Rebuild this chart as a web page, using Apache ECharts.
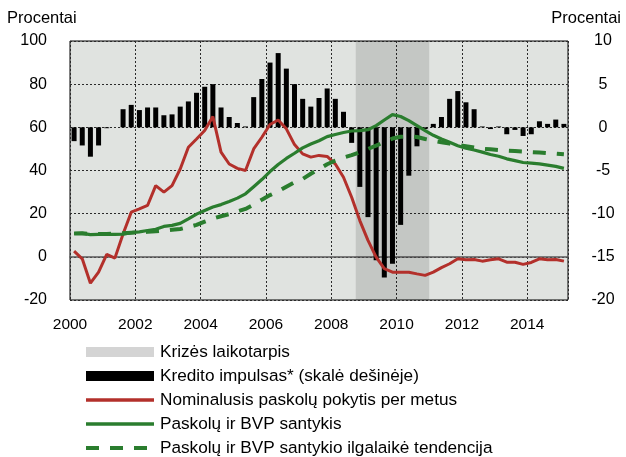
<!DOCTYPE html>
<html>
<head>
<meta charset="utf-8">
<script src="https://cdn.jsdelivr.net/npm/echarts@6/dist/echarts.min.js"></script>
<style>
html,body{margin:0;padding:0;background:#fff;}
#c{width:626px;height:457px;}
</style>
</head>
<body>
<div id="c"></div>
<script>
// Quarterly categories 2000Q1 .. 2015Q1
const quarters = [];
for (let y = 2000; y <= 2015; y++) {
  for (let q = 1; q <= 4; q++) {
    if (quarters.length < 61) quarters.push(y + 'Q' + q);
  }
}
const yearTicks = [2000, 2002, 2004, 2006, 2008, 2010, 2012, 2014];
const crisisStart = 2008.75;
const crisisEnd = 2011.0;

// Kredito impulsas (right scale)
const kreditoImpulsas = [-1.6, -2.1, -3.4, -2.1, -0.1, 0, 2.1, 2.6, 2.0, 2.3,
  2.3, 1.4, 1.5, 2.4, 3.0, 4.0, 4.7, 5.0, 2.3, 1.2,
  0.5, 0.1, 3.5, 5.6, 7.5, 8.6, 6.8, 5.0, 3.3, 2.4,
  3.4, 4.5, 3.3, 1.8, -1.8, -6.9, -10.4, -15.4, -17.4, -15.8,
  -11.3, -5.6, -2.2, -0.2, 0.4, 1.2, 3.3, 4.2, 2.9, 2.1,
  0.1, -0.2, 0.1, -0.8, -0.3, -1.0, -0.8, 0.7, 0.4, 0.9, 0.4];
// Nominalusis paskolų pokytis per metus
const nominalusPokytis = [2.6, -0.9, -12.2, -7.1, 1.1, -0.6, 10.6, 20.7, 22.2, 23.8,
  33, 30, 33, 40.7, 50.8, 54.6, 58.5, 65, 48.5, 43,
  41, 40, 50, 55.4, 61.3, 63.4, 59.3, 52, 47.7, 46.2,
  47, 46.5, 43, 36.9, 27.6, 16.8, 7.6, -0.1, -5.5, -7.1,
  -7.1, -7.1, -7.9, -8.6, -7.1, -5.0, -3.2, -0.9, -1.4, -1.2,
  -2.0, -1.4, -0.9, -2.5, -2.5, -3.5, -2.6, -0.9, -1.4, -1.2, -2.0];
// Paskolų ir BVP santykis
const paskoluBVP = [10.8, 10.9, 10.3, 10.4, 10.4, 10.4, 10.5, 11.2, 11.6, 12.2,
  12.8, 14.1, 14.6, 15.5, 17.6, 19.8, 21.5, 23.1, 24.2, 25.6,
  27.2, 29.2, 32.5, 35.8, 39.5, 42.8, 45.6, 48, 50.5, 52.3,
  53.8, 55.7, 56.7, 57.6, 58.3, 58.5, 58.9, 60.8, 63.4, 65.9,
  65, 63.1, 60.8, 58.5, 56.3, 54.6, 53.1, 51.5, 50.3, 49.5,
  48.5, 47.4, 46.6, 45.4, 44.6, 43.7, 43.4, 43.1, 42.5, 41.9, 41];
// Paskolų ir BVP santykio ilgalaikė tendencija
const paskoluBVPTendencija = [10.8, 10.9, 10.6, 10.6, 10.6, 10.7, 10.9, 11.2, 11.4, 11.6,
  11.8, 12.1, 12.5, 12.9, 13.8, 14.8, 16.3, 17.7, 18.8, 19.8,
  21, 22.2, 24.2, 26.5, 28.6, 30.3, 32.5, 34.5, 36.1, 38.5,
  40.6, 42.9, 44.6, 46, 47.1, 48.5, 50, 51.5, 53.3, 54.8,
  55.6, 55.9, 55.5, 54.6, 53.8, 53.1, 52.5, 51.8, 51.3, 50.7,
  50.1, 49.8, 49.5, 49.2, 49, 48.8, 48.5, 48.3, 48, 47.8, 47.5];

const names = {
  crisis: 'Krizės laikotarpis',
  impulse: 'Kredito impulsas* (skalė dešinėje)',
  nominal: 'Nominalusis paskolų pokytis per metus',
  ratio: 'Paskolų ir BVP santykis',
  trend: 'Paskolų ir BVP santykio ilgalaikė tendencija'
};

const FONT = '"Liberation Sans", Arial, sans-serif';
const RED = '#B3302B';
const GREEN = '#2A7D2E';
const grid = '#2a2a2a';

const chart = echarts.init(document.getElementById('c'), null, {renderer: 'canvas'});
chart.setOption({
  animation: false,
  backgroundColor: '#fff',
  textStyle: {fontFamily: FONT},
  grid: {left: 70, right: 58, top: 41, bottom: 157, show: true,
    backgroundColor: '#E0E3E0', borderColor: '#000', borderWidth: 1},
  graphic: [
    {type: 'text', left: 7, top: 10, style: {text: 'Procentai', font: '16.5px ' + FONT, fill: '#000'}},
    {type: 'text', right: 5, top: 10, style: {text: 'Procentai', font: '16.5px ' + FONT, fill: '#000'}}
  ],
  xAxis: [
    {type: 'category', data: quarters, boundaryGap: true,
      axisLine: {show: true, onZero: true, onZeroAxisIndex: 0, lineStyle: {color: '#5a5a5a', width: 1.5}},
      axisTick: {show: false}, axisLabel: {show: false}, splitLine: {show: false}},
    {type: 'value', min: 2000, max: 2015.25, interval: 2, position: 'bottom',
      axisLine: {show: false}, axisTick: {show: false},
      axisLabel: {color: '#000', fontSize: 15.5, fontFamily: FONT, margin: 17, showMaxLabel: false,
        formatter: v => (yearTicks.indexOf(v) >= 0 ? String(v) : '')},
      splitLine: {show: true, lineStyle: {color: grid, width: 1, type: [2, 2]}}}
  ],
  yAxis: [
    {type: 'value', min: -20, max: 100, interval: 20, position: 'left',
      axisLine: {show: false}, axisTick: {show: false},
      axisLabel: {color: '#000', fontSize: 16, fontFamily: FONT, margin: 23},
      splitLine: {show: true, lineStyle: {color: grid, width: 1, type: [2, 2]}}},
    {type: 'value', min: -20, max: 10, interval: 5, position: 'right',
      axisLine: {show: false}, axisTick: {show: false},
      axisLabel: {color: '#000', fontSize: 16, fontFamily: FONT, margin: 35, align: 'center'},
      splitLine: {show: false}}
  ],
  legend: {
    orient: 'vertical', left: 84, top: 343, height: 120, padding: 0,
    itemWidth: 68, itemHeight: 10, itemGap: 6,
    selectedMode: false,
    textStyle: {fontSize: 17.2, lineHeight: 18, color: '#000', fontFamily: FONT, padding: [0, 0, 0, 1]},
    data: [
      {name: names.crisis, icon: 'rect', itemStyle: {color: '#D4D4D4'}},
      {name: names.impulse, icon: 'rect'},
      {name: names.nominal, lineStyle: {width: 3.5}, itemStyle: {opacity: 0}},
      {name: names.ratio, lineStyle: {width: 3.5}, itemStyle: {opacity: 0}},
      {name: names.trend, lineStyle: {width: 4}, itemStyle: {opacity: 0}}
    ]
  },
  series: [
    {name: names.crisis, type: 'line', xAxisIndex: 1, yAxisIndex: 0, data: [],
      color: '#D4D4D4', symbol: 'none', z: 1,
      markArea: {silent: true, itemStyle: {color: 'rgba(0,0,0,0.12)'},
        data: [[{xAxis: crisisStart}, {xAxis: crisisEnd}]]}},
    {name: names.impulse, type: 'bar', xAxisIndex: 0, yAxisIndex: 1, data: kreditoImpulsas,
      barWidth: 5, itemStyle: {color: '#000'}, z: 3},
    {name: names.nominal, type: 'line', xAxisIndex: 0, yAxisIndex: 0, data: nominalusPokytis,
      symbol: 'none', color: RED, lineStyle: {color: RED, width: 3}, z: 4},
    {name: names.ratio, type: 'line', xAxisIndex: 0, yAxisIndex: 0, data: paskoluBVP,
      symbol: 'none', color: GREEN, lineStyle: {color: GREEN, width: 3.2}, z: 5},
    {name: names.trend, type: 'line', xAxisIndex: 0, yAxisIndex: 0, data: paskoluBVPTendencija,
      symbol: 'none', color: GREEN, lineStyle: {color: GREEN, width: 4, type: [13, 11]}, z: 5}
  ]
});
</script>
</body>
</html>
